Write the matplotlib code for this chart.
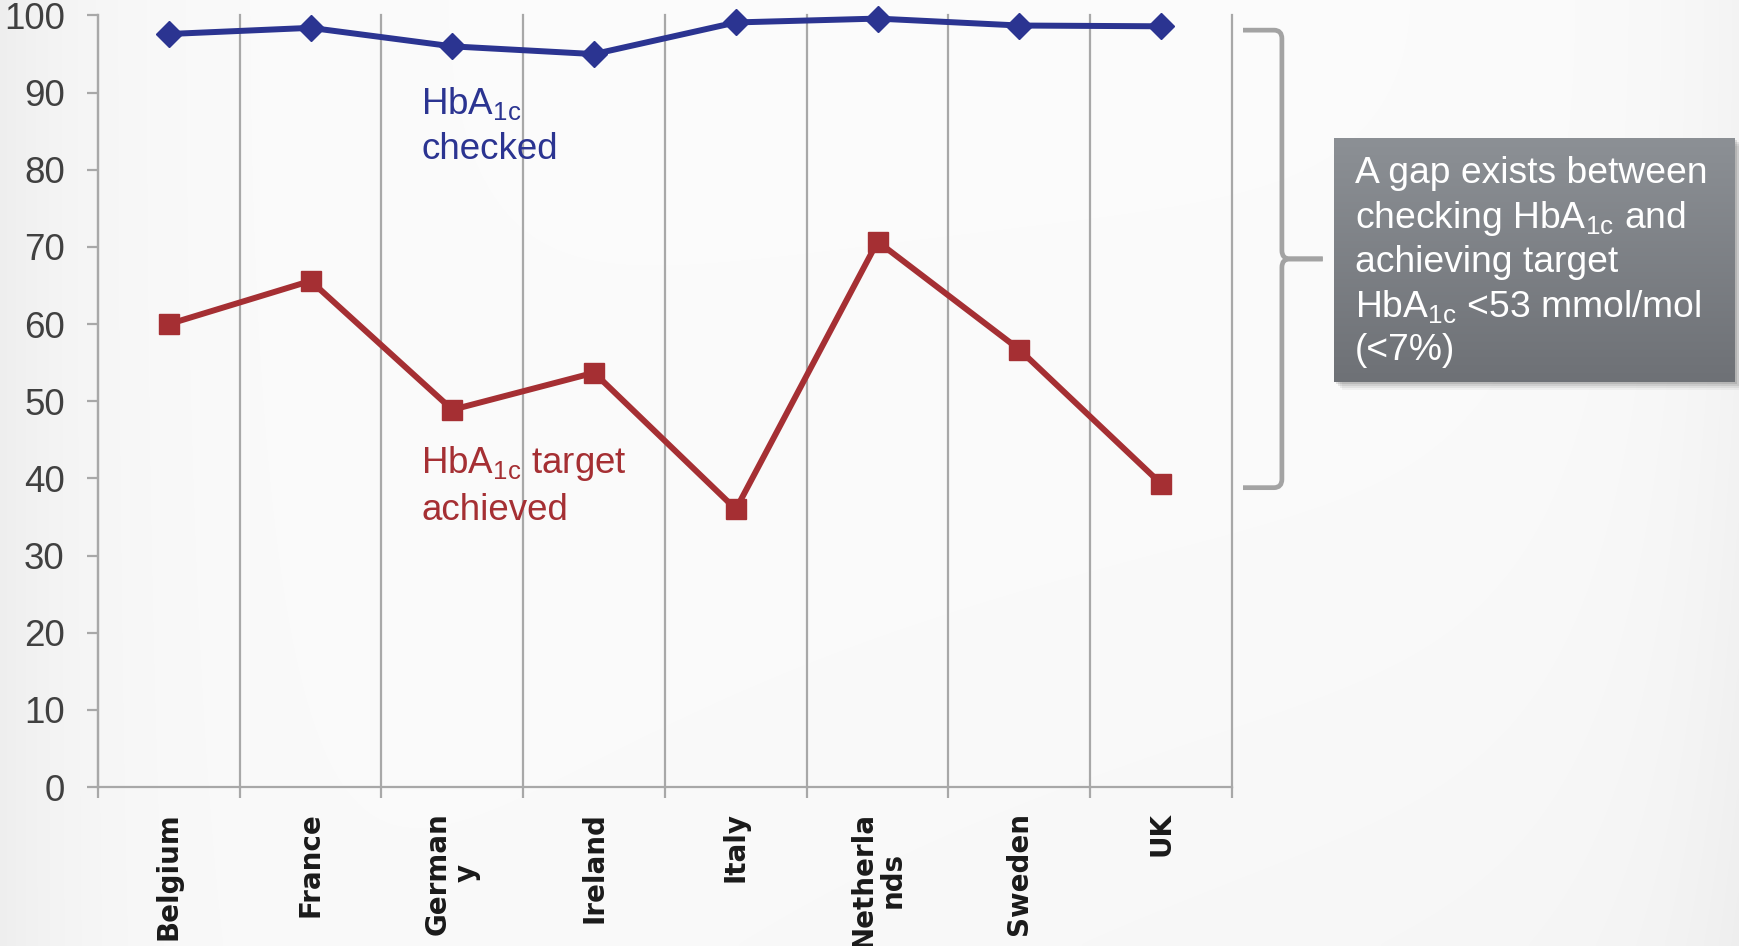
import numpy as np
import matplotlib
matplotlib.use("Agg")
import matplotlib.pyplot as plt
from matplotlib.path import Path
from matplotlib.patches import PathPatch, Rectangle
from matplotlib.transforms import blended_transform_factory

# ---- data ---------------------------------------------------------------
countries = ["Belgium", "France", "German\ny", "Ireland", "Italy",
             "Netherla\nnds", "Sweden", "UK"]
hba1c_checked = [97.6, 98.4, 96.0, 95.0, 99.1, 99.6, 98.7, 98.6]
hba1c_achieved = [60.0, 65.6, 48.9, 53.7, 36.0, 70.7, 56.7, 39.3]
y_ticks = list(range(0, 101, 10))

# ---- style --------------------------------------------------------------
BLUE = "#2b3491"
RED = "#a52f33"
GRID = "#a8a8a8"
TICKTXT = "#404040"
plt.rcParams["font.family"] = ["Liberation Sans", "DejaVu Sans"]
plt.rcParams["mathtext.fontset"] = "custom"
plt.rcParams["mathtext.rm"] = "Liberation Sans"
plt.rcParams["mathtext.it"] = "Liberation Sans"

W, H = 1740, 946
fig = plt.figure(figsize=(W / 100, H / 100), dpi=100)

# soft slide background
bg = fig.add_axes([0, 0, 1, 1], zorder=-10)
gx = np.linspace(0, 1, 400)
gy = np.linspace(0, 1, 220)
XX, YY = np.meshgrid(gx, gy)
shade = 0.985 - 0.05 * np.exp(-XX / 0.06) - 0.03 * np.exp(-(1 - XX) / 0.05) \
        - 0.02 * (YY ** 2) * XX
bg.imshow(np.dstack([shade] * 3), aspect="auto", extent=[0, 1, 0, 1],
          origin="upper", interpolation="bicubic")
bg.set_axis_off()

# ---- main axes ----------------------------------------------------------
x0, x1, ytop, ybot = 98, 1232, 15.5, 787
ax = fig.add_axes([x0 / W, (H - ybot) / H, (x1 - x0) / W, (ybot - ytop) / H])
ax.patch.set_alpha(0)

xs = np.arange(len(countries))
ax.plot(xs, hba1c_checked, color=BLUE, lw=4.3, marker="D", ms=13.5,
        mec=BLUE, mew=1, zorder=4, clip_on=False)
ax.plot(xs, hba1c_achieved, color=RED, lw=4.3, marker="s", ms=15,
        mec=RED, mew=1, zorder=4, clip_on=False)

ax.set_xlim(-0.5, len(countries) - 0.5)
ax.set_ylim(0, 100)
ax.set_yticks(y_ticks)
ax.set_xticks(xs)
ax.set_xticklabels(countries, rotation=90, fontweight="bold", fontsize=20,
                   family="DejaVu Sans", multialignment="center",
                   color="#1a1a1a", linespacing=1.05)
ax.set_xticks(np.arange(-0.5, len(countries)), minor=True)
ax.tick_params(axis="x", which="major", length=0, pad=18)
ax.tick_params(axis="x", which="minor", length=8, width=1.6, color=GRID,
               direction="out")
ax.tick_params(axis="y", length=8, width=1.6, color=GRID, pad=16,
               labelsize=26.5, labelcolor=TICKTXT)
ax.grid(axis="x", which="minor", color=GRID, lw=1.6)
ax.grid(axis="x", which="major", visible=False)
ax.grid(axis="y", visible=False)
for t in ax.xaxis.get_minor_ticks():
    t.gridline.set_clip_on(False)
for s in ("top", "right"):
    ax.spines[s].set_visible(False)
for s in ("left", "bottom"):
    ax.spines[s].set_color(GRID)
    ax.spines[s].set_linewidth(1.6)

# series labels
ax.text(1.78, 85.7, "HbA$_{\\mathrm{1c}}$\nchecked", color=BLUE, fontsize=26.5,
        ha="left", va="center", linespacing=1.36)
ax.text(1.78, 39.0, "HbA$_{\\mathrm{1c}}$ target\nachieved", color=RED,
        fontsize=26.5, ha="left", va="center", linespacing=1.36)

# ---- curly brace spanning the gap at the last country --------------------
tr = blended_transform_factory(ax.transAxes, ax.transData)
top, bot = hba1c_checked[-1] - 0.5, hba1c_achieved[-1] - 0.5
mid = (top + bot) / 2
xa, xv, xt = 1.0097, 1.044, 1.080
rx, ry = 0.007, 1.1
half_top = [(xa, top), (xv - rx, top), (xv, top), (xv, top - ry),
            (xv, mid + ry), (xv, mid), (xv + rx, mid), (xt, mid)]
half_bot = [(xa, bot), (xv - rx, bot), (xv, bot), (xv, bot + ry),
            (xv, mid - ry), (xv, mid), (xv + rx, mid), (xt, mid)]
codes = [Path.MOVETO, Path.LINETO, Path.CURVE3, Path.CURVE3,
         Path.LINETO, Path.CURVE3, Path.CURVE3, Path.LINETO]
for pts in (half_top, half_bot):
    ax.add_patch(PathPatch(Path(pts, codes), transform=tr, fill=False,
                           ec="#a3a3a3", lw=3.4, clip_on=False,
                           capstyle="butt", joinstyle="round"))

# ---- callout box ---------------------------------------------------------
bx0, bx1, by0, by1 = 1334, 1735, 138, 382
for k, a in enumerate([0.10, 0.08, 0.06, 0.04]):
    off = 2 + 2 * k
    fig.patches.append(Rectangle(((bx0 + off) / W, (H - by1 - off) / H),
                                 (bx1 - bx0) / W, (by1 - by0) / H,
                                 transform=fig.transFigure, fc="black",
                                 ec="none", alpha=a, zorder=1))
box = fig.add_axes([bx0 / W, (H - by1) / H, (bx1 - bx0) / W, (by1 - by0) / H],
                   zorder=5)
grad = np.linspace(0, 1, 100)[:, None]
top_c = np.array([0x8c, 0x90, 0x95]) / 255
bot_c = np.array([0x6e, 0x71, 0x76]) / 255
img = top_c[None, None, :] * (1 - grad[..., None]) + bot_c[None, None, :] * grad[..., None]
box.imshow(np.repeat(img, 2, axis=1), aspect="auto", extent=[0, 1, 0, 1],
           interpolation="bicubic")
box.set_axis_off()
box.text(0.052, 0.925,
         "A gap exists between\nchecking HbA$_{\\mathrm{1c}}$ and\n"
         "achieving target\nHbA$_{\\mathrm{1c}}$ <53 mmol/mol\n(<7%)",
         transform=box.transAxes, color="white", fontsize=26.8, ha="left",
         va="top", linespacing=1.27)

fig.savefig("out.png", dpi=100)
